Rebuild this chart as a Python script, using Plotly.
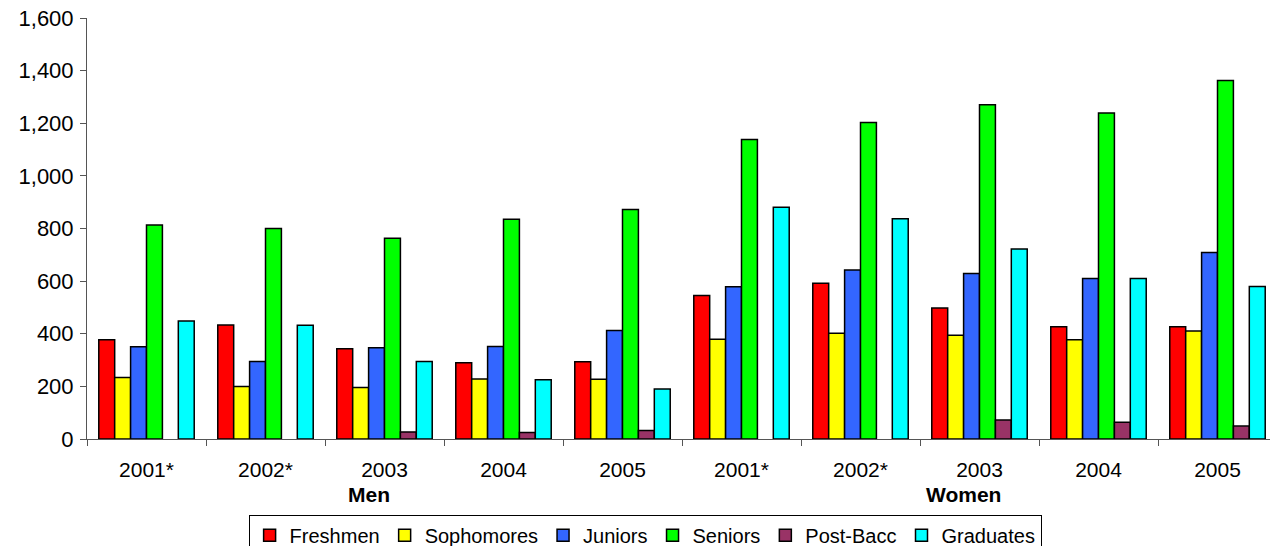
import plotly.graph_objects as go

groups = ["Men"] * 5 + ["Women"] * 5
years = ["2001*", "2002*", "2003", "2004", "2005", "2001*", "2002*", "2003", "2004", "2005"]

freshmen = [377, 433, 343, 290, 294, 545, 592, 498, 427, 427]
sophomores = [234, 200, 196, 228, 227, 379, 402, 394, 377, 410]
juniors = [351, 295, 347, 352, 412, 579, 642, 629, 610, 709]
seniors = [813, 800, 763, 835, 872, 1138, 1203, 1270, 1239, 1362]
post_bacc = [None, None, 27, 25, 32, None, None, 72, 64, 49]
graduates = [448, 432, 295, 225, 190, 881, 837, 722, 610, 580]

series = [
    ("Freshmen", freshmen, "#FF0000"),
    ("Sophomores", sophomores, "#FFFF00"),
    ("Juniors", juniors, "#3366FF"),
    ("Seniors", seniors, "#00FF00"),
    ("Post-Bacc", post_bacc, "#993366"),
    ("Graduates", graduates, "#00FFFF"),
]

xcats = [f"{g} {y}" for g, y in zip(groups, years)]

FONT = "Arial, Liberation Sans, sans-serif"

fig = go.Figure()
for name, vals, color in series:
    fig.add_trace(go.Bar(
        x=xcats, y=vals, name=name,
        marker=dict(color=color, line=dict(color="black", width=1.5)),
    ))

fig.update_layout(
    width=1278, height=546,
    margin=dict(l=79, r=9, t=10, b=115, autoexpand=False),
    paper_bgcolor="white", plot_bgcolor="white",
    barmode="group", bargap=0.198, bargroupgap=0,
    font=dict(family=FONT, size=21, color="black"),
    showlegend=True,
    legend=dict(
        orientation="h", x=0.469, xanchor="center", y=-0.18, yanchor="top",
        bordercolor="black", borderwidth=1, font=dict(size=20),
        itemwidth=30, tracegroupgap=0,
    ),
    xaxis=dict(
        type="category", tickmode="array", tickvals=xcats, ticktext=years,
        tickson="boundaries", ticks="outside", ticklen=6, tickcolor="#555555",
        showline=True, linecolor="#555555", linewidth=1,
        showgrid=False, ticklabelstandoff=12, tickfont=dict(size=21),
        automargin=False,
    ),
    yaxis=dict(
        range=[0, 1600], dtick=200, tickformat=",",
        ticks="outside", ticklen=6, tickcolor="#555555",
        showline=True, linecolor="#555555", linewidth=1,
        showgrid=False, zeroline=False, ticklabelstandoff=2,
        tickfont=dict(size=22), automargin=False, ticklabeloverflow="allow",
    ),
    annotations=[
        dict(text="<b>Men</b>", x=xcats[2], xref="x", y=-0.131, yref="paper",
             xshift=-16, showarrow=False, font=dict(size=21), yanchor="middle"),
        dict(text="<b>Women</b>", x=xcats[7], xref="x", y=-0.131, yref="paper",
             xshift=-16, showarrow=False, font=dict(size=21), yanchor="middle"),
    ],
)

fig.write_html("out.html")
